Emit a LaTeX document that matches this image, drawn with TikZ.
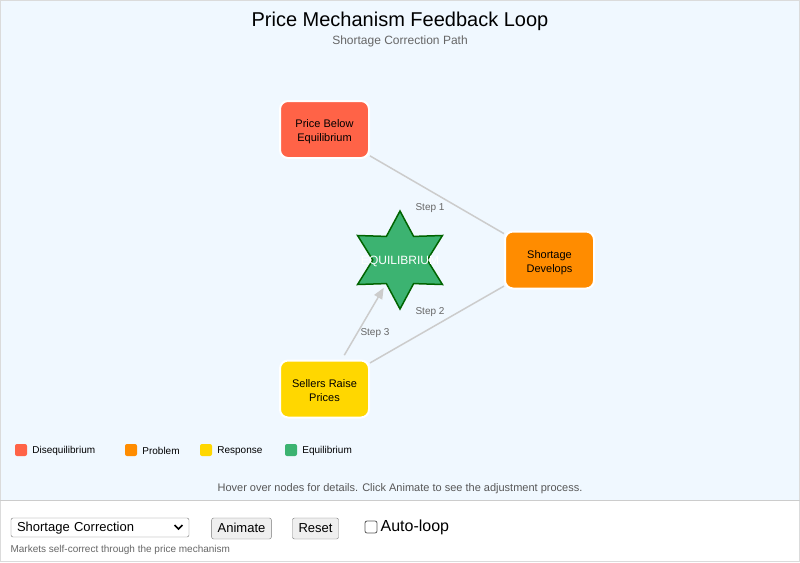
\documentclass[tikz,border=0pt]{standalone}
\usepackage{fontspec}
\setmainfont{Liberation Sans}
\usepackage{tikz}
\usetikzlibrary{arrows.meta,positioning,shapes.geometric}
\definecolor{panelbg}{HTML}{F0F8FF}
\definecolor{tomato}{HTML}{FF6347}
\definecolor{darkorange}{HTML}{FF8C00}
\definecolor{gold}{HTML}{FFD700}
\definecolor{seagreen}{HTML}{3CB371}
\definecolor{deepgreen}{HTML}{006400}
\definecolor{linkgray}{HTML}{CCCCCC}
\definecolor{textgray}{HTML}{666666}
\definecolor{ctrlgray}{HTML}{767676}
\definecolor{btnfill}{HTML}{EFEFEF}
\newcommand{\fs}[1]{\fontsize{#1}{1.27\dimexpr#1pt\relax}\selectfont}
\tikzset{
  box/.style={rectangle,rounded corners=8pt,draw=white,line width=2pt,
    minimum width=89pt,minimum height=57pt,align=center,font=\fs{11},
    text height=24pt,text depth=0pt},
  link/.style={draw=linkgray,line width=1.5pt},
  steplabel/.style={text=textgray,font=\fs{10},yshift=-1.5pt},
  key/.style={rectangle,rounded corners=2pt,minimum size=12pt,inner sep=0pt},
  keytext/.style={right=5pt of #1,inner sep=0pt,font=\fs{10},yshift=-0.8pt},
  btn/.style={rectangle,rounded corners=2pt,draw=ctrlgray,fill=btnfill,
    minimum height=21pt,inner xsep=6pt,font=\fs{13}}
}
\tikzstyle{arrow} = [link,-{Triangle[length=11pt,width=9pt]}]

\begin{document}
\begin{tikzpicture}[x=1pt,y=-1pt]
  \useasboundingbox (0,0) rectangle (800,562);
  \fill[panelbg] (0,0) rectangle (800,500);
  \draw[linkgray!70] (0.5,0.5) rectangle (799.5,561.5);
  \draw[linkgray,line width=1pt] (0,500) -- (800,500);
  \node[font=\fs{20}] (title) at (400,21) {Price Mechanism Feedback Loop};
  \node[text=textgray,font=\fs{12}] (subtitle) at (400,41) {Shortage Correction Path};
  \node[box,fill=tomato] (price) at (324.5,129.5) {Price Below\\Equilibrium};
  \node[box,fill=darkorange] (shortage) at (549.5,260) {Shortage\\Develops};
  \node[box,fill=gold] (sellers) at (324.5,389) {Sellers Raise\\Prices};
  \node[star,star points=6,star point ratio=1.8,minimum size=98pt,inner sep=0pt,
    fill=seagreen,draw=deepgreen,line width=1.5pt,
    label={[text=white,font=\fs{12},yshift=-1pt]center:EQUILIBRIUM}] (eq) at (400,260) {};
  \draw[link] (price) -- (shortage);
  \draw[link] (shortage) -- (sellers);
  \draw[arrow,shorten <=5pt,shorten >=4pt] (sellers) -- (eq);
  \node[steplabel] (s1) at (430,207) {Step 1};
  \node[steplabel] (s2) at (430,311) {Step 2};
  \node[steplabel] (s3) at (375,332) {Step 3};
  \node[key,fill=tomato] (k1) at (21,450) {};
  \node[keytext=k1] {Disequilibrium};
  \node[key,fill=darkorange] (k2) at (131,450) {};
  \node[keytext=k2] {Problem};
  \node[key,fill=gold] (k3) at (206,450) {};
  \node[keytext=k3] {Response};
  \node[key,fill=seagreen] (k4) at (291,450) {};
  \node[keytext=k4] {Equilibrium};
  \node[text=textgray!85!black,font=\fs{11}] (hint) at (400,489)
    {Hover over nodes for details. Click Animate to see the adjustment process.};
  \node[rectangle,rounded corners=2pt,draw=ctrlgray,fill=white,text width=166pt,
    inner xsep=6pt,minimum height=19pt,align=left,font=\fs{13},text depth=1pt]
    (menu) at (100,527.5) {Shortage Correction};
  \draw[line width=1.5pt] (174.5,525) -- (178.5,529) -- (182.5,525);
  \node[btn,text depth=1pt] (animate) at (241.5,528.5) {Animate};
  \node[btn,text depth=1pt] (reset) at (315.5,528.5) {Reset};
  \node[rectangle,rounded corners=2pt,draw=black!65,line width=0.8pt,fill=white,
    minimum size=12pt,inner sep=0pt] (loop) at (371,527) {};
  \node[right=3pt of loop,inner sep=0pt,font=\fs{16},yshift=-0.5pt] (looptext) {Auto-loop};
  \node[anchor=west,text=textgray,font=\fs{10}] (note) at (7,549.5)
    {Markets self-correct through the price mechanism};
\end{tikzpicture}
\end{document}
